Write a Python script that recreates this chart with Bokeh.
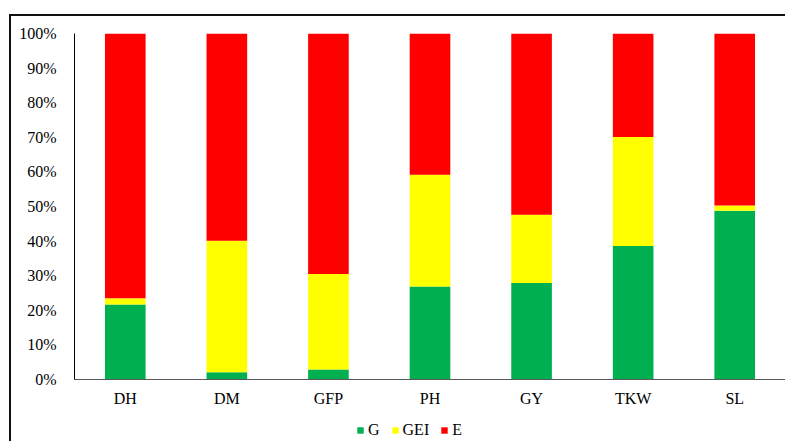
from bokeh.plotting import figure
from bokeh.layouts import column
from bokeh.models import FixedTicker, PrintfTickFormatter, Legend, LegendItem, ColumnDataSource, Range1d
from bokeh.embed import file_html
from bokeh.resources import INLINE

traits = ["DH", "DM", "GFP", "PH", "GY", "TKW", "SL"]
G = [21.7, 2.1, 2.9, 26.9, 27.9, 38.6, 48.8]
GEI = [1.8, 38.0, 27.6, 32.3, 19.7, 31.5, 1.5]
E = [76.5, 59.9, 69.5, 40.8, 52.4, 29.9, 49.7]
series = ["G", "GEI", "E"]
colors = ["#00B050", "#FFFF00", "#FF0000"]
yticks = list(range(0, 101, 10))

source = ColumnDataSource(dict(trait=traits, G=G, GEI=GEI, E=E))

p = figure(x_range=traits, y_range=Range1d(0, 100), width=774, height=394,
           output_backend="svg", toolbar_location=None,
           min_border_left=63, min_border_right=0, min_border_top=17, min_border_bottom=31)
p.x_range.range_padding = 0.0

r = p.vbar_stack(series, x="trait", width=0.4, color=colors, source=source, line_color=None)

p.xgrid.grid_line_color = None
p.ygrid.grid_line_color = None
p.outline_line_color = None

p.yaxis.ticker = FixedTicker(ticks=yticks)
p.yaxis.formatter = PrintfTickFormatter(format="%d%%")
for ax in (p.xaxis[0], p.yaxis[0]):
    ax.major_tick_line_color = None
    ax.minor_tick_line_color = None
    ax.major_label_text_font = "Liberation Serif"
    ax.major_label_text_font_size = "16px"
    ax.major_label_text_color = "#000000"
p.yaxis.axis_line_color = "#000000"
p.xaxis.axis_line_color = "#595959"
p.yaxis.major_label_standoff = 12
p.xaxis.major_label_standoff = 4

# legend strip
lg = figure(width=774, height=31, output_backend="svg", toolbar_location=None,
            x_range=Range1d(0, 1), y_range=Range1d(0, 1),
            x_axis_location=None, y_axis_location=None,
            min_border=0, min_border_left=0, min_border_right=0,
            min_border_top=0, min_border_bottom=0)
lg.grid.visible = False
lg.outline_line_color = None
dummy = ColumnDataSource(dict(x=[5.0], top=[0.0]))
items = []
for s, c in zip(series, colors):
    rr = lg.vbar(x="x", top="top", width=0.1, color=c, line_color=None, source=dummy)
    items.append(LegendItem(label=s, renderers=[rr], index=0))
legend = Legend(items=items, orientation="horizontal", location=(282, 2),
                glyph_width=8, glyph_height=8, label_standoff=4, label_width=0,
                spacing=11, label_text_font="Liberation Serif", label_text_font_size="16px",
                label_text_color="#000000", label_height=17,
                border_line_color=None, background_fill_alpha=0, margin=0, padding=0)
lg.add_layout(legend)

layout = column(p, lg, spacing=0)
layout.styles = {"border-top": "2px solid #111", "border-left": "2px solid #111",
                 "margin-left": "9px", "margin-top": "14px"}

open("out.html", "w").write(file_html(layout, INLINE))
